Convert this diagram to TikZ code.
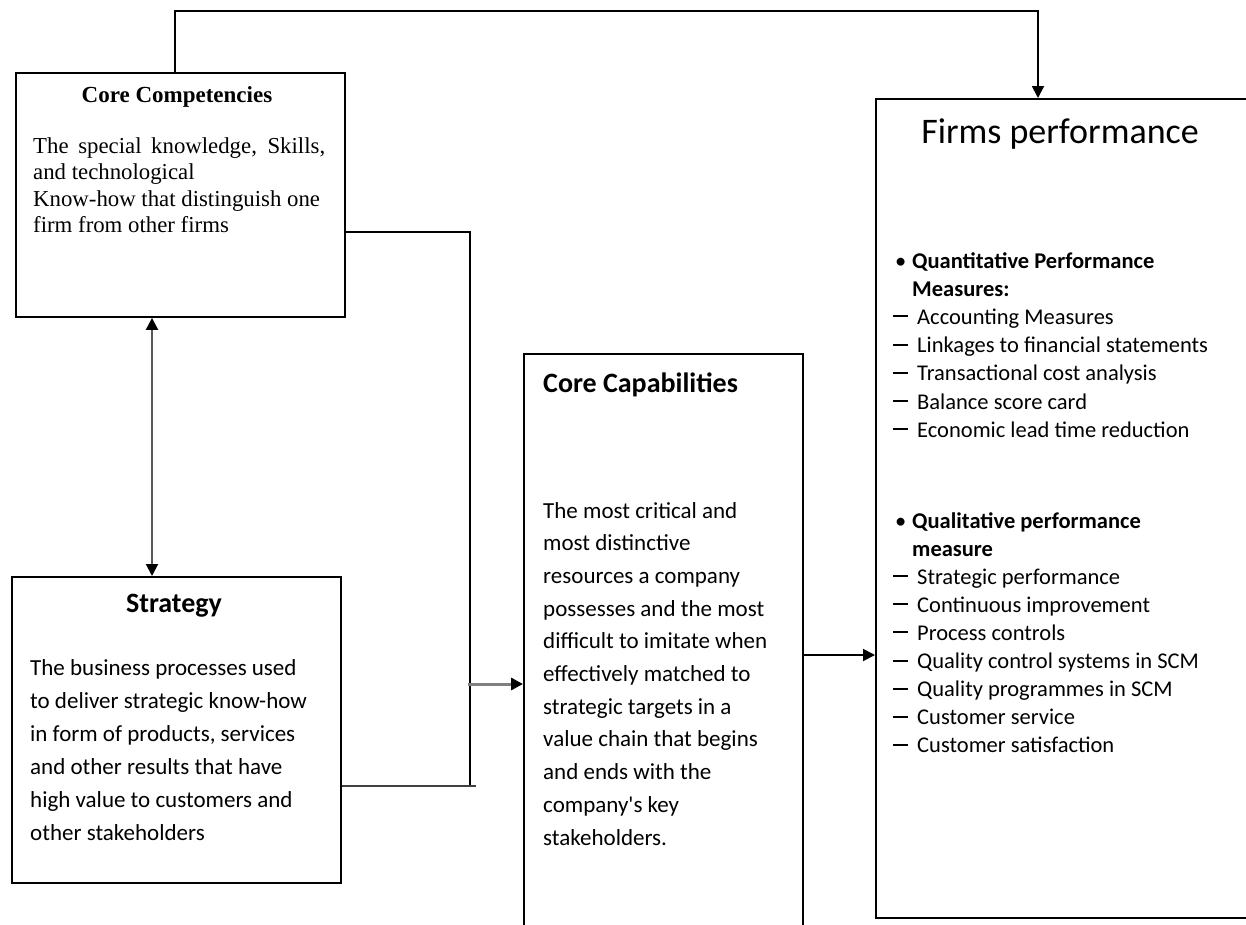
\documentclass[tikz,border=0pt]{standalone}
\usepackage{fontspec}
\setmainfont{Liberation Serif}
\newfontfamily\sansf{Carlito}
\usetikzlibrary{arrows.meta}
\newcommand{\dashitem}{\makebox[24pt][l]{\rule[7pt]{15pt}{2pt}}}
\newcommand{\bulitem}{\makebox[19pt][l]{\hspace{2pt}•}}
\tikzset{blacktip/.tip={Triangle[length=12pt,width=12pt,fill=black,color=black]}}
\begin{document}
\begin{tikzpicture}[x=1pt,y=-1pt,
  box/.style={draw=black, line width=1.9pt, inner sep=0pt, anchor=north west},
  txt/.style={inner sep=0pt, anchor=base west},
  ctxt/.style={inner sep=0pt, anchor=base},
  conn/.style={line width=1.9pt, draw=black},
  tipend/.style={-{Triangle[length=12pt,width=12pt]}},
]
\useasboundingbox (0,0) rectangle (1246,924);
\fill[white] (0,0) rectangle (1246,924);

% boxes
\node[box, minimum width=329pt, minimum height=244pt] (cc) at (15,72) {};
\node[box, minimum width=329pt, minimum height=306pt] (st) at (11,576) {};
\node[box, minimum width=279pt, minimum height=590pt] (cap) at (523,353) {};
\node[box, minimum width=400pt, minimum height=819pt] (fp) at (875,98) {};

% Core Competencies text
\node[ctxt] (cctitle) at (177,102) {\fontsize{23}{26}\selectfont\bfseries Core Competencies};
\node[txt] (ccbody) at (33,153) {\parbox[t]{300pt}{\fontsize{22.8}{26.5}\selectfont
\makebox[292pt][s]{The special knowledge, Skills,}\\
and technological\\
Know-how that distinguish one\\
firm from other firms}};

% Strategy text
\node[ctxt] (sttitle) at (174,612) {\sansf\fontsize{28}{33}\selectfont\bfseries Strategy};
\node[txt] (stbody) at (30,675) {\parbox[t]{305pt}{\sansf\fontsize{23}{33}\selectfont
The business processes used\\
to deliver strategic know-how\\
in form of products, services\\
and other results that have\\
high value to customers and\\
other stakeholders}};

% Core Capabilities text
\node[txt] (captitle) at (543,392) {\sansf\fontsize{28}{33}\selectfont\bfseries Core Capabilities};
\node[txt] (capbody) at (543,518) {\parbox[t]{255pt}{\sansf\fontsize{23}{32.7}\selectfont
The most critical and\\
most distinctive\\
resources a company\\
possesses and the most\\
difficult to imitate when\\
effectively matched to\\
strategic targets in a\\
value chain that begins\\
and ends with the\\
company's key\\
stakeholders.}};

% Firms performance text
\node[ctxt] (fptitle) at (1060,143) {\sansf\fontsize{36}{42}\selectfont Firms performance};
\node[txt] (quant) at (893,268) {\parbox[t]{360pt}{\sansf\fontsize{22.5}{28.2}\selectfont
\bulitem\textbf{Quantitative Performance}\\
\hspace*{19pt}\textbf{Measures:}\\
\dashitem Accounting Measures\\
\dashitem Linkages to financial statements\\
\dashitem Transactional cost analysis\\
\dashitem Balance score card\\
\dashitem Economic lead time reduction}};
\node[txt] (qual) at (893,528) {\parbox[t]{360pt}{\sansf\fontsize{22.5}{28.1}\selectfont
\bulitem\textbf{Qualitative performance}\\
\hspace*{19pt}\textbf{measure}\\
\dashitem Strategic performance\\
\dashitem Continuous improvement\\
\dashitem Process controls\\
\dashitem Quality control systems in SCM\\
\dashitem Quality programmes in SCM\\
\dashitem Customer service\\
\dashitem Customer satisfaction}};

% connector coordinates
\coordinate (topL) at (175,11);
\coordinate (topR) at (1038,11);
\coordinate (j1) at (470,232);
\coordinate (j2) at (470,786);
\coordinate (j3) at (476,786);
\coordinate (g1) at (468,684);
\coordinate (dv) at (152,0);
\coordinate (fr) at (0,655);

% connectors
\draw[conn, tipend] (cc.north -| topL) -- (topL) -- (topR) -- (fp.north -| topR);
\draw[conn] (cc.east |- j1) -- (j1) -- (j2);
\draw[conn, draw=black!75] (st.east |- j2) -- (j3);
\draw[conn, draw=black!50, line width=3pt, -blacktip] (g1) -- (cap.west |- g1);
\draw[conn, draw=black!65, line width=2pt, blacktip-blacktip] (cc.south -| dv) -- (st.north -| dv);
\draw[conn, tipend] (cap.east |- fr) -- (fp.west |- fr);
\end{tikzpicture}
\end{document}
